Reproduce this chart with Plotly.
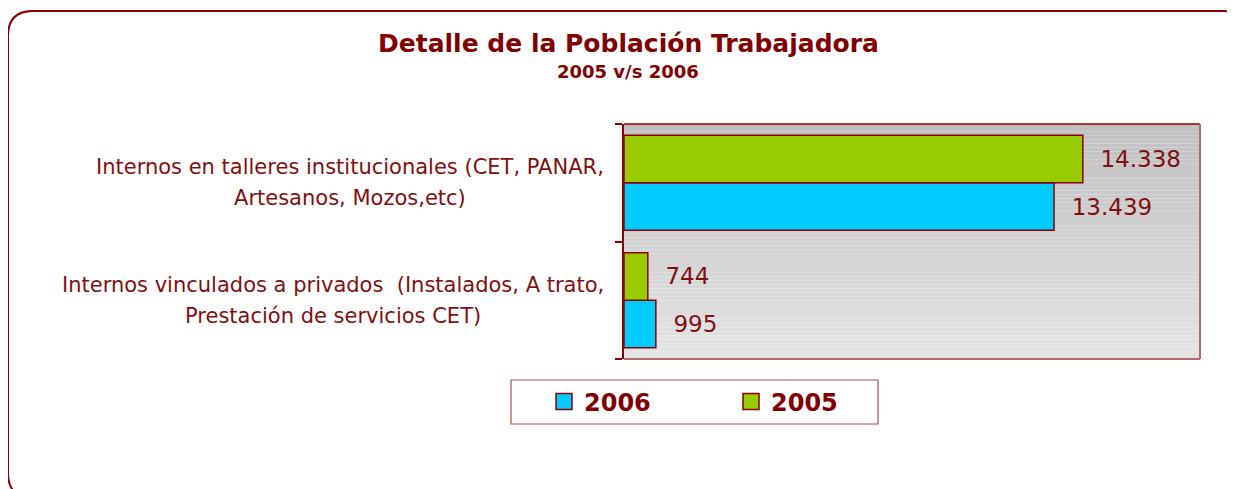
import plotly.graph_objects as go

# ---- data ----
categories = [
    "Internos en talleres institucionales (CET, PANAR,<br>Artesanos, Mozos,etc)",
    "Internos vinculados a privados  (Instalados, A trato,<br>Prestación de servicios CET)",
]
series_names = ["2006", "2005"]
values_2006 = [13439, 995]
values_2005 = [14338, 744]
title_text = "Detalle de la Población Trabajadora"
subtitle_text = "2005 v/s 2006"

# ---- style ----
W, H = 1235, 489
OFF = 8  # page margin offset of the rendered figure
L, R, T, B = 624 - OFF, 1200 - OFF, 124 - OFF, 359 - OFF
DARK = "#8B0000"
TXT = "#7F1010"
BLUE = "#00CCFF"
GREEN = "#99CC00"
FONT = "DejaVu Sans"


def px(xp):
    return (xp - OFF - L) / (R - L)


def py(yp):
    return (B - (yp - OFF)) / (B - T)


fig = go.Figure()

bar_common = dict(
    orientation="h",
    textposition="outside",
    texttemplate="  %{x:,.0f}",
    textfont=dict(family=FONT, size=23, color=TXT),
    constraintext="none",
    cliponaxis=False,
    showlegend=False,
)
fig.add_trace(go.Bar(name=series_names[0], y=categories, x=values_2006,
                     marker=dict(color=BLUE, line=dict(color=DARK, width=1.5)), **bar_common))
fig.add_trace(go.Bar(name=series_names[1], y=categories, x=values_2005,
                     marker=dict(color=GREEN, line=dict(color=DARK, width=1.5)), **bar_common))

# legend-only entries (bigger square symbols)
for name, col in zip(series_names, [BLUE, GREEN]):
    fig.add_trace(go.Scatter(x=[None], y=[None], mode="markers", name=name,
                             marker=dict(symbol="square", size=16, color=col,
                                         line=dict(color=DARK, width=1.5)),
                             showlegend=True))

shapes = []
# gradient plot background
N = 60
for i in range(N):
    t = (i + 0.5) / N  # 0 bottom -> 1 top
    v = int(round(228 + (192 - 228) * t))
    shapes.append(dict(type="rect", xref="x domain", yref="y domain",
                       x0=0, x1=1, y0=i / N, y1=(i + 1) / N,
                       fillcolor=f"rgb({v},{v},{v})", line=dict(width=0), layer="below"))
# plot borders
shapes.append(dict(type="line", xref="x domain", yref="y domain", x0=0, x1=1, y0=1, y1=1,
                   line=dict(color=DARK, width=1.5), layer="above"))
shapes.append(dict(type="line", xref="x domain", yref="y domain", x0=1, x1=1, y0=0, y1=1,
                   line=dict(color="#B56A6A", width=2), layer="above"))
shapes.append(dict(type="line", xref="x domain", yref="y domain", x0=0, x1=1, y0=0, y1=0,
                   line=dict(color="#B56A6A", width=2), layer="above"))
# outer rounded frame (reference page coords)
fl, ft, fr, fb, rr = 8, 11, 1248, 498, 25
path = (f"M {px(fl)},{py(ft+rr)} Q {px(fl)},{py(ft)} {px(fl+rr)},{py(ft)} "
        f"L {px(fr-rr)},{py(ft)} Q {px(fr)},{py(ft)} {px(fr)},{py(ft+rr)} "
        f"L {px(fr)},{py(fb-rr)} Q {px(fr)},{py(fb)} {px(fr-rr)},{py(fb)} "
        f"L {px(fl+rr)},{py(fb)} Q {px(fl)},{py(fb)} {px(fl)},{py(fb-rr)} Z")
shapes.append(dict(type="path", xref="paper", yref="paper", path=path,
                   line=dict(color=DARK, width=2), layer="below"))
# legend box
shapes.append(dict(type="rect", xref="paper", yref="paper",
                   x0=px(511), x1=px(878), y0=py(380), y1=py(424),
                   line=dict(color="#A85050", width=1.2), fillcolor="white", layer="below"))

annotations = [
    dict(text=f"<b>{title_text}</b>", xref="paper", yref="paper", x=px(628), y=py(44),
         xanchor="center", yanchor="middle", showarrow=False,
         font=dict(family=FONT, size=25, color="#800000")),
    dict(text=f"<b>{subtitle_text}</b>", xref="paper", yref="paper", x=px(628), y=py(72),
         xanchor="center", yanchor="middle", showarrow=False,
         font=dict(family=FONT, size=18, color="#800000")),
]
for cat in categories:
    lines = cat.split("<br>")
    txt = "<br>".join(f"<span style='font-size:21px'>{ln}</span>" for ln in lines)
    annotations.append(dict(text=txt, xref="paper", yref="y", x=0, xshift=-18, y=cat,
                            xanchor="right", yanchor="middle", align="center",
                            showarrow=False,
                            font=dict(family=FONT, size=24, color=TXT)))

fig.update_layout(
    width=W, height=H,
    margin=dict(l=L, r=W - R, t=T, b=H - B, pad=0),
    paper_bgcolor="white", plot_bgcolor="rgba(0,0,0,0)",
    barmode="group", bargap=0.19, bargroupgap=0,
    separators=",.",
    shapes=shapes, annotations=annotations,
    showlegend=True,
    legend=dict(orientation="h", x=px(544), xanchor="left", y=py(402), yanchor="middle",
                bgcolor="rgba(0,0,0,0)", borderwidth=0, entrywidth=142,
                font=dict(family=FONT, size=24, color="#800000", weight="bold"),
                traceorder="normal"),
    font=dict(family=FONT, color=TXT),
)
fig.update_xaxes(range=[0, 18000], visible=False, showgrid=False, zeroline=False)
fig.update_yaxes(type="category", categoryorder="array", categoryarray=categories[::-1],
                 range=[-0.5, 1.5], showticklabels=False, showgrid=False, zeroline=False,
                 showline=True, linecolor=DARK, linewidth=2,
                 ticks="outside", tickson="boundaries", ticklen=7, tickcolor=DARK, tickwidth=1.5)

fig.write_html("out.html")
